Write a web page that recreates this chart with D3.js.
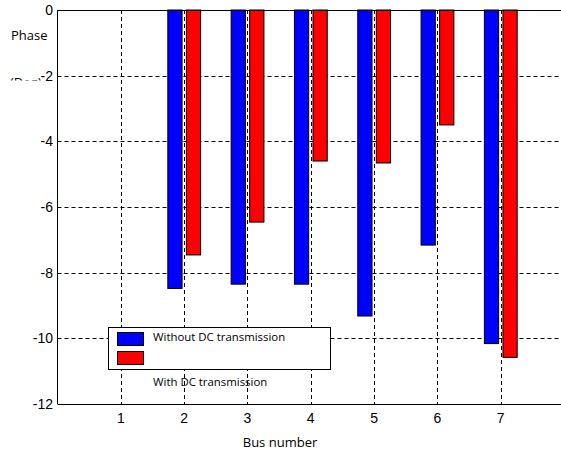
<!DOCTYPE html>
<html><head><meta charset="utf-8">
<script src="https://cdn.jsdelivr.net/npm/d3@7"></script>
<style>body{margin:0;background:#fff}svg{display:block}</style>
</head><body>
<script>
const buses = [1, 2, 3, 4, 5, 6, 7];
const withoutDC = [0, -8.48, -8.35, -8.35, -9.32, -7.16, -10.16];
const withDC = [0, -7.46, -6.46, -4.60, -4.66, -3.50, -10.58];
const xTicks = [1, 2, 3, 4, 5, 6, 7];
const yTicks = [0, -2, -4, -6, -8, -10, -12];
const seriesNames = ["Without DC transmission", "With DC transmission"];
const colors = ["#0000ff", "#ff0000"];

const W = 561, H = 452;
const svg = d3.select("body").append("svg").attr("width", W).attr("height", H);
const x = d3.scaleLinear().domain([0, 8]).range([57.5, 564]);
const y = d3.scaleLinear().domain([-12, 0]).range([404, 10]);

// grid
const g = svg.append("g");
g.selectAll(".gx").data(xTicks).join("line")
  .attr("x1", d => Math.round(x(d)) + 0.5).attr("x2", d => Math.round(x(d)) + 0.5)
  .attr("y1", 10).attr("y2", 404)
  .attr("stroke", "#000").attr("stroke-width", 1).attr("stroke-dasharray", "4,3");
g.selectAll(".gy").data(yTicks.filter(d => d > -12 && d < 0)).join("line")
  .attr("x1", 57.5).attr("x2", 564)
  .attr("y1", d => Math.round(y(d)) + 0.5).attr("y2", d => Math.round(y(d)) + 0.5)
  .attr("stroke", "#000").attr("stroke-width", 1).attr("stroke-dasharray", "4,3");

// bars
const bw = 0.225;
const offs = [-0.145, 0.148];
[withoutDC, withDC].forEach((vals, si) => {
  svg.append("g").selectAll("rect").data(buses.map((b, i) => ({b, v: vals[i]})).filter(d => d.v !== 0))
    .join("rect")
    .attr("x", d => x(d.b + offs[si] - bw / 2))
    .attr("width", d => x(bw) - x(0))
    .attr("y", d => y(0))
    .attr("height", d => y(d.v) - y(0))
    .attr("fill", colors[si]).attr("stroke", "#000").attr("stroke-width", 1);
});

// axes box
svg.append("line").attr("x1", 57.5).attr("x2", 57.5).attr("y1", 10).attr("y2", 404).attr("stroke", "#000");
svg.append("line").attr("x1", 57.5).attr("x2", 564).attr("y1", 404.5).attr("y2", 404.5).attr("stroke", "#000");
svg.append("line").attr("x1", 57.5).attr("x2", 564).attr("y1", 10.5).attr("y2", 10.5).attr("stroke", "#000");

// axis titles
const ff = "Open Sans, sans-serif";
svg.append("text").attr("x", 11).attr("y", 40).attr("font-family", ff).attr("font-size", 13).text("Phase");
svg.append("text").attr("x", 10).attr("y", 87).attr("font-family", ff).attr("font-size", 13).text("(Deg)");
svg.append("rect").attr("x", 0).attr("y", 80.5).attr("width", 50).attr("height", 12).attr("fill", "#fff");
svg.append("text").attr("x", 280).attr("y", 447).attr("text-anchor", "middle")
  .attr("font-family", ff).attr("font-size", 13).text("Bus number");

// tick labels
svg.append("g").selectAll("text").data(yTicks).join("text")
  .attr("x", 53).attr("y", d => y(d) + 5).attr("text-anchor", "end")
  .attr("font-family", "Liberation Sans, Arial, sans-serif").attr("font-size", 14).attr("fill", "#000")
  .text(d => d);
svg.append("g").selectAll("text").data(xTicks).join("text")
  .attr("x", d => x(d)).attr("y", 423).attr("text-anchor", "middle")
  .attr("font-family", "Liberation Sans, Arial, sans-serif").attr("font-size", 14).attr("fill", "#000")
  .text(d => d);

// legend
const lg = svg.append("g");
lg.append("rect").attr("x", 108.5).attr("y", 327.5).attr("width", 222).attr("height", 42)
  .attr("fill", "#fff").attr("stroke", "#000");
lg.selectAll(".sw").data(seriesNames).join("rect")
  .attr("x", 117.5).attr("y", (d, i) => 332.5 + i * 19).attr("width", 26).attr("height", 13)
  .attr("fill", (d, i) => colors[i]).attr("stroke", "#000");
lg.selectAll(".lt").data(seriesNames).join("text")
  .attr("x", 153).attr("y", (d, i) => i === 0 ? 341 : 386)
  .attr("font-family", ff).attr("font-size", 11.4).text(d => d);
</script>
</body></html>
